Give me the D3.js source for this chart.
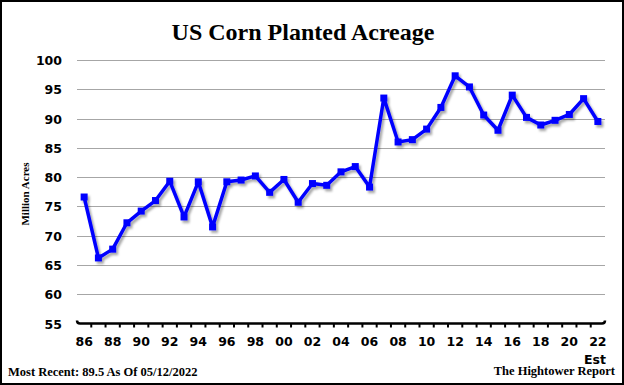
<!DOCTYPE html>
<html>
<head>
<meta charset="utf-8">
<script src="https://cdn.jsdelivr.net/npm/d3@7"></script>
<style>
  html, body { margin: 0; padding: 0; background: #fff; }
  svg { display: block; }
</style>
</head>
<body>
<div id="chart"></div>
<script>
// data
var years = d3.range(1986, 2023)
var acres = [76.6, 66.2, 67.7, 72.2, 74.2, 76.0, 79.3, 73.2, 79.2, 71.5,
             79.2, 79.5, 80.2, 77.4, 79.6, 75.7, 78.9, 78.6, 80.9, 81.8,
             78.3, 93.5, 86.0, 86.4, 88.2, 91.9, 97.3, 95.4, 90.6, 88.0,
             94.0, 90.2, 88.9, 89.7, 90.7, 93.4, 89.5]
var yTicks = [55, 60, 65, 70, 75, 80, 85, 90, 95, 100]
var xLabelYears = d3.range(1986, 2023, 2)

var W = 624, H = 385
var plot_left = 77, plot_right = 605, plot_top = 60, plot_bottom = 323.5

var svg = d3.select("#chart").append("svg")
  .attr("width", W)
  .attr("height", H)

// outer frame
svg.append("rect")
  .attr("x", 1).attr("y", 1)
  .attr("width", W - 2).attr("height", H - 2)
  .style("fill", "#fff")
  .style("stroke", "#000")
  .style("stroke-width", 2)

var defs = svg.append("defs")
defs.append("filter")
  .attr("id", "shadow")
  .attr("x", "-10%").attr("y", "-10%")
  .attr("width", "120%").attr("height", "120%")
  .append("feDropShadow")
  .attr("dx", 2).attr("dy", 2.5)
  .attr("stdDeviation", 1.3)
  .attr("flood-color", "#000")
  .attr("flood-opacity", 0.35)

var x = d3.scaleBand().domain(years).range([plot_left, plot_right])
var y = d3.scaleLinear().domain([55, 100]).range([plot_bottom, plot_top])
function cx(d) { return x(d) + x.bandwidth() / 2 }

// title
svg.append("text")
  .attr("x", 303).attr("y", 40)
  .attr("text-anchor", "middle")
  .style("font-family", "'Liberation Serif', serif")
  .style("font-weight", "bold")
  .style("font-size", "24px")
  .text("US Corn Planted Acreage")

// gridlines
svg.append("g")
  .selectAll("line")
  .data(yTicks.filter(function(d) { return d > 55 }))
  .enter().append("line")
    .attr("x1", plot_left).attr("x2", plot_right)
    .attr("y1", function(d) { return Math.round(y(d)) + 0.5 })
    .attr("y2", function(d) { return Math.round(y(d)) + 0.5 })
    .style("stroke", "#a6a6a6")
    .style("stroke-width", 1.2)

// y axis labels
var yAxis = svg.append("g")
  .attr("transform", "translate(" + (plot_left - 15) + ",0)")
  .call(d3.axisLeft(y).tickValues(yTicks).tickSize(0).tickPadding(0))
yAxis.select(".domain").remove()
yAxis.selectAll("text")
  .attr("dy", "0.36em")
  .style("font-family", "'DejaVu Sans', sans-serif")
  .style("font-weight", "bold")
  .style("font-size", "12.5px")
  .style("fill", "#000")

svg.append("text")
  .attr("transform", "translate(29,194) rotate(-90)")
  .attr("text-anchor", "middle")
  .style("font-family", "'Liberation Serif', serif")
  .style("font-weight", "bold")
  .style("font-size", "11px")
  .text("Million Acres")

// x axis line with curled ends
svg.append("path")
  .attr("d", "M" + plot_left + "," + (plot_bottom - 3) +
             " Q" + plot_left + "," + plot_bottom + " " + (plot_left + 3) + "," + plot_bottom +
             " H" + (plot_right - 3) +
             " Q" + plot_right + "," + plot_bottom + " " + plot_right + "," + (plot_bottom - 3))
  .style("fill", "none")
  .style("stroke", "#000")
  .style("stroke-width", 2.5)

// ticks between categories
svg.append("g")
  .selectAll("line")
  .data(years.slice(1))
  .enter().append("line")
    .attr("x1", function(d) { return x(d) })
    .attr("x2", function(d) { return x(d) })
    .attr("y1", plot_bottom)
    .attr("y2", plot_bottom + 4)
    .style("stroke", "#000")
    .style("stroke-width", 2)

// x labels
var xAxis = svg.append("g")
  .attr("transform", "translate(0," + plot_bottom + ")")
  .call(d3.axisBottom(x).tickValues(xLabelYears).tickSize(0).tickPadding(14)
    .tickFormat(function(d) { return String(d).slice(2) }))
xAxis.select(".domain").remove()
xAxis.selectAll("text")
  .style("font-family", "'DejaVu Sans', sans-serif")
  .style("font-weight", "bold")
  .style("font-size", "12.5px")
  .style("fill", "#000")

svg.append("text")
  .attr("x", plot_right + 1).attr("y", 364)
  .attr("text-anchor", "end")
  .style("font-family", "'DejaVu Sans', sans-serif")
  .style("font-weight", "bold")
  .style("font-size", "12.5px")
  .text("Est")

// line + markers
var series = svg.append("g").attr("filter", "url(#shadow)")

series.append("path")
  .datum(years)
  .attr("d", d3.line()
    .x(function(d) { return cx(d) })
    .y(function(d, i) { return y(acres[i]) }))
  .style("fill", "none")
  .style("stroke", "#0000ff")
  .style("stroke-width", 3.5)
  .style("stroke-linejoin", "round")

series.selectAll("rect")
  .data(years)
  .enter().append("rect")
    .attr("x", function(d) { return cx(d) - 3.5 })
    .attr("y", function(d, i) { return y(acres[i]) - 3.5 })
    .attr("width", 7).attr("height", 7)
    .style("fill", "#0000ff")

// footer
svg.append("text")
  .attr("x", 8).attr("y", 375.5)
  .style("font-family", "'Liberation Serif', serif")
  .style("font-weight", "bold")
  .style("font-size", "12.5px")
  .text("Most Recent: " + acres[acres.length - 1] + " As Of 05/12/2022")

svg.append("text")
  .attr("x", 615).attr("y", 374.5)
  .attr("text-anchor", "end")
  .style("font-family", "'Liberation Serif', serif")
  .style("font-weight", "bold")
  .style("font-size", "12.5px")
  .text("The Hightower Report")
</script>
</body>
</html>
